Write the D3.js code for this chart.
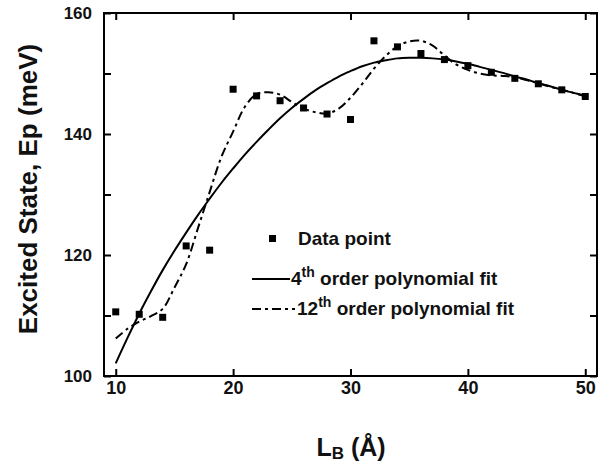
<!DOCTYPE html>
<html>
<head>
<meta charset="utf-8">
<script src="https://cdn.jsdelivr.net/npm/d3@7"></script>
<style>
  body { margin: 0; background: #fff; }
  svg { display: block; }
</style>
</head>
<body>
<div id="chart"></div>
<script>
// measured data points
const pointX = [10, 12, 14, 16, 18, 20, 22, 24, 26, 28, 30, 32, 34, 36, 38, 40, 42, 44, 46, 48, 50];
const pointY = [110.6, 110.2, 109.7, 121.5, 120.8, 147.4, 146.3, 145.5, 144.3, 143.3, 142.4,
                155.4, 154.4, 153.3, 152.3, 151.3, 150.2, 149.2, 148.3, 147.3, 146.2];

// fit curves at every 1 A
const fitX = [10, 11, 12, 13, 14, 15, 16, 17, 18, 19, 20, 21, 22, 23, 24, 25, 26, 27, 28, 29, 30,
              31, 32, 33, 34, 35, 36, 37, 38, 39, 40, 41, 42, 43, 44, 45, 46, 47, 48, 49, 50];
const fit4 = [102.1, 106.3, 110.3, 114.0, 117.5, 120.7, 123.7, 126.6, 129.3, 131.9, 134.3,
              136.6, 138.7, 140.7, 142.6, 144.3, 145.8, 147.2, 148.4, 149.5, 150.4,
              151.2, 151.8, 152.2, 152.5, 152.6, 152.6, 152.5, 152.3, 152.0, 151.6,
              151.1, 150.6, 150.1, 149.5, 149.0, 148.4, 147.9, 147.3, 146.8, 146.3];
const fit12 = [106.2, 107.8, 109.0, 109.9, 111.1, 114.6, 118.5, 124.4, 130.4, 136.2, 140.4,
               144.5, 146.6, 146.9, 146.5, 145.3, 144.2, 143.6, 143.4, 144.2, 146.0,
               148.3, 150.8, 152.9, 154.5, 155.3, 155.4, 154.6, 153.0, 151.5, 150.6,
               150.0, 149.7, 149.6, 149.4, 148.9, 148.4, 147.8, 147.3, 146.8, 146.2];

const xTicks = [10, 20, 30, 40, 50];
const yTicks = [100, 110, 120, 130, 140, 150, 160];
const yTickLabels = [100, 120, 140, 160];
const legendNames = ["Data point", "4", "12"];

const width = 600, height = 464;
const margin = { top: 13, right: 3, bottom: 88, left: 104 };
const font = "'Liberation Sans', Arial, sans-serif";

const svg = d3.select("#chart").append("svg")
  .attr("width", width).attr("height", height);

const x = d3.scaleLinear().domain([9, 51]).range([margin.left, width - margin.right]);
const y = d3.scaleLinear().domain([100, 160]).range([height - margin.bottom, margin.top]);

// axes, ticks pointing inward on all four sides
function styleAxis(g, size) {
  g.select(".domain").remove();
  g.selectAll(".tick line").attr("stroke", "#000").attr("stroke-width", 2);
  g.selectAll(".tick text").attr("fill", "#111")
    .attr("font-family", font).attr("font-weight", "bold").attr("font-size", size);
}

svg.append("g")
  .attr("transform", `translate(0,${y(100)})`)
  .call(d3.axisBottom(x).tickValues(xTicks).tickSizeInner(-7).tickSizeOuter(0).tickPadding(5))
  .call(g => styleAxis(g, 18));

svg.append("g")
  .attr("transform", `translate(0,${y(160)})`)
  .call(d3.axisTop(x).tickValues(xTicks).tickSizeInner(-7).tickSizeOuter(0).tickFormat(""))
  .call(g => styleAxis(g, 18));

svg.append("g")
  .attr("transform", `translate(${x(9)},0)`)
  .call(d3.axisLeft(y).tickValues(yTicks).tickSizeInner(-7).tickSizeOuter(0).tickPadding(12)
    .tickFormat(d => yTickLabels.includes(d) ? d : ""))
  .call(g => styleAxis(g, 17));

svg.append("g")
  .attr("transform", `translate(${x(51)},0)`)
  .call(d3.axisRight(y).tickValues(yTicks).tickSizeInner(-7).tickSizeOuter(0).tickFormat(""))
  .call(g => styleAxis(g, 17));

svg.append("rect")
  .attr("x", x(9)).attr("y", y(160))
  .attr("width", x(51) - x(9)).attr("height", y(100) - y(160))
  .attr("fill", "none").attr("stroke", "#000").attr("stroke-width", 2);

// fitted curves
const line = d3.line().curve(d3.curveCatmullRom);

svg.append("path")
  .attr("d", line(fitX.map((d, i) => [x(d), y(fit4[i])])))
  .attr("fill", "none").attr("stroke", "#000").attr("stroke-width", 2);

svg.append("path")
  .attr("d", line(fitX.map((d, i) => [x(d), y(fit12[i])])))
  .attr("fill", "none").attr("stroke", "#000").attr("stroke-width", 2)
  .attr("stroke-dasharray", "9,4,3,4");

// data squares
const sq = 7;
svg.append("g").selectAll("rect")
  .data(pointX.map((d, i) => [d, pointY[i]]))
  .join("rect")
  .attr("x", d => x(d[0]) - sq / 2)
  .attr("y", d => y(d[1]) - sq / 2)
  .attr("width", sq).attr("height", sq)
  .attr("fill", "#000");

// legend
const lg = svg.append("g")
  .attr("font-family", font).attr("font-weight", "bold").attr("fill", "#111");

lg.append("rect").attr("x", 269).attr("y", 235).attr("width", 7).attr("height", 7).attr("fill", "#000");
lg.append("text").attr("x", 298).attr("y", 245).attr("font-size", 19).text(legendNames[0]);

lg.append("line").attr("x1", 252).attr("x2", 290).attr("y1", 279).attr("y2", 279)
  .attr("stroke", "#000").attr("stroke-width", 2);
const t2 = lg.append("text").attr("x", 291).attr("y", 285).attr("font-size", 19);
t2.append("tspan").text(legendNames[1]);
t2.append("tspan").attr("dy", -8).attr("font-size", 14).text("th");
t2.append("tspan").attr("dy", 8).text(" order polynomial fit");

lg.append("line").attr("x1", 252).attr("x2", 295).attr("y1", 309).attr("y2", 309)
  .attr("stroke", "#000").attr("stroke-width", 2).attr("stroke-dasharray", "9,4,3,4");
const t3 = lg.append("text").attr("x", 297).attr("y", 315).attr("font-size", 19);
t3.append("tspan").text(legendNames[2]);
t3.append("tspan").attr("dy", -8).attr("font-size", 14).text("th");
t3.append("tspan").attr("dy", 8).text(" order polynomial fit");

// axis titles
svg.append("text")
  .attr("transform", "translate(37,189) rotate(-90)")
  .attr("text-anchor", "middle")
  .attr("font-family", font).attr("font-weight", "bold").attr("font-size", 26).attr("fill", "#111")
  .text("Excited State, Ep (meV)");

const xt = svg.append("text")
  .attr("x", 351).attr("y", 456)
  .attr("text-anchor", "middle")
  .attr("font-family", font).attr("font-weight", "bold").attr("font-size", 25).attr("fill", "#111");
xt.append("tspan").text("L");
xt.append("tspan").attr("dy", 3).attr("font-size", 17).text("B");
xt.append("tspan").attr("dy", -3).text(" (Å)");
</script>
</body>
</html>
